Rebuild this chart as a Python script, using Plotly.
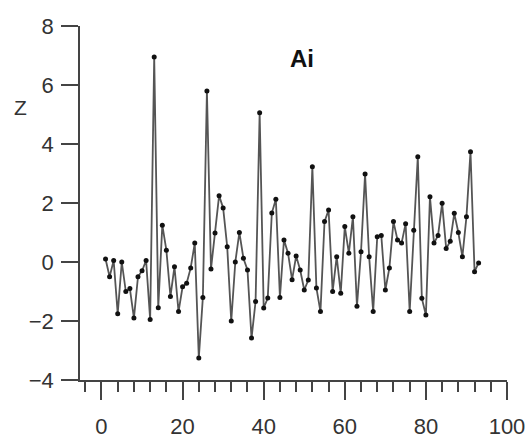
import plotly.graph_objects as go

x_vals = list(range(1, 94))
z_vals = [
    0.1, -0.5, 0.05, -1.75, 0.0, -1.0, -0.9, -1.9, -0.5, -0.3, 0.05, -1.95,
    6.95, -1.55, 1.25, 0.4, -1.17, -0.16, -1.68, -0.84, -0.72, -0.2, 0.64, -3.25, -1.2,
    5.8, -0.24, 0.98, 2.25, 1.83, 0.52, -2.0, 0.0, 1.0, 0.13, -0.27, -2.58, -1.34,
    5.06, -1.56, -1.22, 1.66, 2.13, -1.2, 0.75, 0.3, -0.6, 0.2, -0.27, -0.95, -0.61,
    3.23, -0.88, -1.68, 1.37, 1.76, -1.0, 0.18, -1.06, 1.2, 0.3, 1.53, -1.5, 0.35,
    2.98, 0.18, -1.68, 0.86, 0.9, -0.95, -0.2, 1.37, 0.75, 0.64, 1.3, -1.68, 1.08,
    3.57, -1.23, -1.8, 2.21, 0.64, 0.9, 1.99, 0.46, 0.7, 1.65, 1.0, 0.18, 1.53,
    3.74, -0.33, -0.03,
]
title_text = "Ai"
y_label = "Z"

W, H = 528, 442
ML, MR, MT, MB = 80, 21, 26, 62

fig = go.Figure()
fig.add_trace(go.Scatter(
    x=x_vals, y=z_vals, mode="lines+markers",
    line=dict(color="#555555", width=1.8),
    marker=dict(color="#111111", size=5),
    showlegend=False,
))

axis_font = dict(family="Liberation Sans, Arial, sans-serif", size=22, color="#333333")

fig.update_layout(
    width=W, height=H,
    margin=dict(l=ML, r=MR, t=MT, b=MB, autoexpand=False),
    plot_bgcolor="white", paper_bgcolor="white",
    xaxis=dict(
        range=[-5.3, 100], tick0=0, dtick=20, automargin=False,
        showline=True, linecolor="#444444", linewidth=1.5,
        ticks="outside", ticklen=18, tickwidth=1.5, tickcolor="#444444",
        minor=dict(ticks="outside", dtick=4, tick0=0, ticklen=10, tickwidth=1.5, tickcolor="#444444"),
        showgrid=False, zeroline=False, tickfont=axis_font, ticklabelstandoff=8,
    ),
    yaxis=dict(
        range=[-4, 8], tick0=-4, dtick=2, automargin=False,
        showline=True, linecolor="#444444", linewidth=1.5,
        ticks="outside", ticklen=17, tickwidth=1.5, tickcolor="#444444",
        showgrid=False, zeroline=False, tickfont=axis_font, ticklabelstandoff=3,
    ),
    annotations=[
        dict(text="<b>" + title_text + "</b>", x=49.5, y=6.9, xref="x", yref="y",
             xanchor="center", yanchor="middle",
             showarrow=False, font=dict(family="Liberation Sans, Arial, sans-serif", size=24, color="#111111")),
        dict(text=y_label, x=(20 - ML) / (W - ML - MR), y=(H - 108 - MB) / (H - MT - MB),
             xref="paper", yref="paper", xanchor="center", yanchor="middle",
             showarrow=False, font=dict(family="Liberation Sans, Arial, sans-serif", size=21, color="#333333")),
    ],
)

fig.write_html("out.html", config={"displayModeBar": False},
               post_script="document.body.style.margin='0';document.body.style.overflow='hidden';")
